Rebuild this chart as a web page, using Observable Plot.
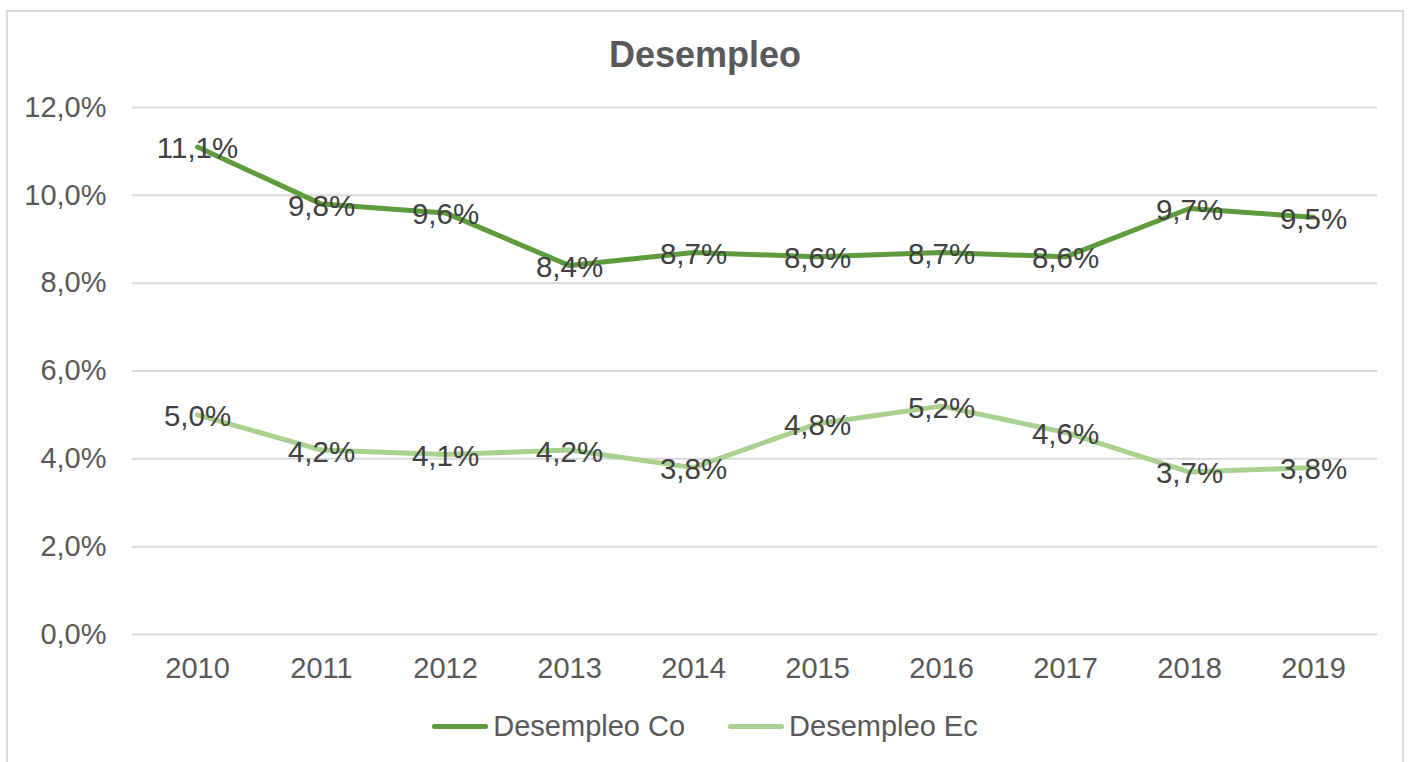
<!DOCTYPE html>
<html>
<head>
<meta charset="utf-8">
<script src="https://cdn.jsdelivr.net/npm/d3@7"></script>
<script src="https://cdn.jsdelivr.net/npm/@observablehq/plot@0.6"></script>
<style>
  html, body { margin: 0; padding: 0; background: #fff; width: 1410px; height: 762px; overflow: hidden; font-family: "Liberation Sans", Arial, sans-serif; }
  #frame { position: absolute; left: 6px; top: 10px; width: 1398px; height: 800px; border: 2px solid #d9d9d9; box-sizing: border-box; }
  #title { position: absolute; left: 0; top: 33px; width: 1410px; text-align: center; font-size: 36px; font-weight: bold; color: #595959; line-height: 44px; }
  #chart { position: absolute; left: 0; top: 80px; }
  #legend { position: absolute; left: 0; top: 708px; width: 1410px; display: flex; justify-content: center; align-items: center; font-size: 29px; color: #595959; line-height: 36px; }
  .item { display: flex; align-items: center; }
  .swatch { width: 56px; height: 5px; border-radius: 3px; margin-right: 5px; }
  .item + .item { margin-left: 43px; }
</style>
</head>
<body>
<div id="frame"></div>
<div id="title">Desempleo</div>
<div id="chart"></div>
<div id="legend"></div>
<script>
const years = ["2010","2011","2012","2013","2014","2015","2016","2017","2018","2019"];
const desempleoCo = [11.1, 9.8, 9.6, 8.4, 8.7, 8.6, 8.7, 8.6, 9.7, 9.5];
const desempleoEc = [5.0, 4.2, 4.1, 4.2, 3.8, 4.8, 5.2, 4.6, 3.7, 3.8];
const seriesNames = ["Desempleo Co", "Desempleo Ec"];
const seriesColors = ["#5e9b3c", "#a9d08e"];
const yTicks = [0, 2, 4, 6, 8, 10, 12];

const data = [];
years.forEach((y, i) => {
  data.push({year: y, value: desempleoCo[i], series: seriesNames[0]});
  data.push({year: y, value: desempleoEc[i], series: seriesNames[1]});
});
const fmt = v => v.toFixed(1).replace(".", ",") + "%";

const chart = Plot.plot({
  width: 1410,
  height: 620,
  marginLeft: 132,
  marginRight: 33,
  marginTop: 27,
  marginBottom: 66,
  style: {fontFamily: '"Liberation Sans", Arial, sans-serif', fontSize: "29px", color: "#595959", background: "transparent"},
  x: {type: "point", domain: years, padding: 0.5, label: null},
  y: {domain: [0, 12], label: null},
  color: {domain: seriesNames, range: seriesColors},
  marks: [
    Plot.ruleY(yTicks, {stroke: "#d9d9d9", strokeWidth: 2}),
    Plot.axisY({ticks: yTicks, tickFormat: fmt, tickSize: 0, tickPadding: 26, label: null, fill: "#595959", fontSize: 29}),
    Plot.axisX({tickSize: 0, tickPadding: 23, label: null, fill: "#595959", fontSize: 29}),
    Plot.line(data, {x: "year", y: "value", z: "series", stroke: "series", strokeWidth: 5, strokeLinejoin: "round", strokeLinecap: "round"}),
    Plot.text(data, {x: "year", y: "value", text: d => fmt(d.value), fill: "#404040", fontSize: 29.5, dy: 2, textAnchor: "middle", lineAnchor: "middle"})
  ]
});
document.getElementById("chart").appendChild(chart);

const legend = document.getElementById("legend");
seriesNames.forEach((n, i) => {
  const item = document.createElement("div");
  item.className = "item";
  const sw = document.createElement("div");
  sw.className = "swatch";
  sw.style.background = seriesColors[i];
  const t = document.createElement("span");
  t.textContent = n;
  item.appendChild(sw);
  item.appendChild(t);
  legend.appendChild(item);
});
</script>
</body>
</html>
